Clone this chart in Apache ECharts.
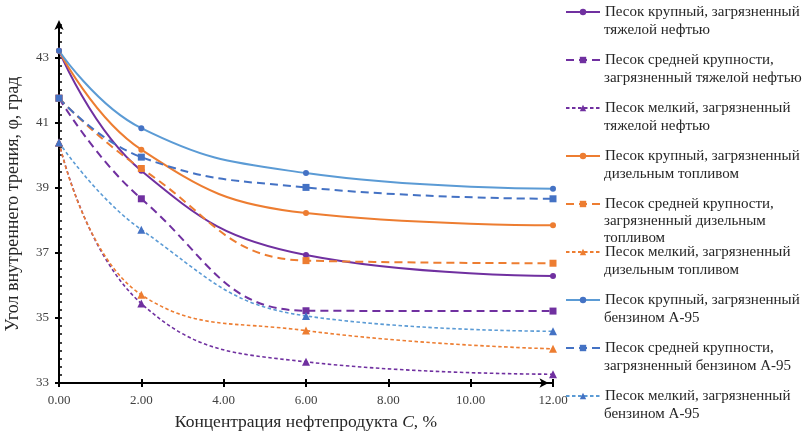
<!DOCTYPE html>
<html>
<head>
<meta charset="utf-8">
<script src="https://cdn.jsdelivr.net/npm/echarts@6/dist/echarts.min.js"></script>
<style>
html,body{margin:0;padding:0;background:#fff;}
#c{width:807px;height:432px;}
</style>
</head>
<body>
<div id="c"></div>
<script>
// ---- data ----
const xValues = [0, 2, 6, 12];
const seriesNames = [
  'Песок крупный, загрязненный\nтяжелой нефтью',
  'Песок средней крупности,\nзагрязненный тяжелой нефтью',
  'Песок мелкий, загрязненный\nтяжелой нефтью',
  'Песок крупный, загрязненный\nдизельным топливом',
  'Песок средней крупности,\nзагрязненный дизельным\nтопливом',
  'Песок мелкий, загрязненный\nдизельным топливом',
  'Песок крупный, загрязненный\nбензином А-95',
  'Песок средней крупности,\nзагрязненный бензином А-95',
  'Песок мелкий, загрязненный\nбензином А-95'
];
const coarseHeavyOil = [43.21, 39.52, 36.93, 36.29];
const mediumHeavyOil = [41.75, 38.66, 35.22, 35.21];
const fineHeavyOil   = [40.39, 35.44, 33.65, 33.27];
const coarseDiesel   = [43.21, 40.17, 38.22, 37.85];
const mediumDiesel   = [41.75, 39.59, 36.76, 36.68];
const fineDiesel     = [40.39, 35.71, 34.61, 34.05];
const coarsePetrol   = [43.21, 40.83, 39.45, 38.97];
const mediumPetrol   = [41.75, 39.94, 39.01, 38.66];
const finePetrol     = [40.39, 37.71, 35.06, 34.59];
const yTickValues = [33, 35, 37, 39, 41, 43];

const allValues = [coarseHeavyOil, mediumHeavyOil, fineHeavyOil, coarseDiesel, mediumDiesel, fineDiesel, coarsePetrol, mediumPetrol, finePetrol];

// ---- styles ----
const PURPLE = '#7030A0', ORANGE = '#ED7D31', BLUE_L = '#5B9BD5', BLUE = '#4472C4';
const styles = [
  {line: PURPLE, mark: PURPLE, type: 'solid', w: 2, sym: 'circle', size: 6},
  {line: PURPLE, mark: PURPLE, type: [8, 5], w: 2, sym: 'rect', size: 7},
  {line: PURPLE, mark: PURPLE, type: [3.5, 2.5], w: 1.6, sym: 'triangle', size: 8},
  {line: ORANGE, mark: ORANGE, type: 'solid', w: 2, sym: 'circle', size: 6},
  {line: ORANGE, mark: ORANGE, type: [8, 5], w: 2, sym: 'rect', size: 7},
  {line: ORANGE, mark: ORANGE, type: [3.5, 2.5], w: 1.6, sym: 'triangle', size: 8},
  {line: BLUE_L, mark: BLUE, type: 'solid', w: 2, sym: 'circle', size: 6},
  {line: BLUE, mark: BLUE, type: [8, 5], w: 2, sym: 'rect', size: 7},
  {line: BLUE_L, mark: BLUE, type: [3.5, 2.5], w: 1.6, sym: 'triangle', size: 8}
];

const FONT = 'Liberation Serif';
const TXT = '#262626';
const series = allValues.map((vals, i) => ({
  name: seriesNames[i],
  type: 'line',
  smooth: 0.45,
  data: vals.map((v, k) => [xValues[k], v]),
  symbol: styles[i].sym,
  symbolSize: styles[i].size,
  showAllSymbol: true,
  lineStyle: {color: styles[i].line, width: styles[i].w, type: styles[i].type},
  itemStyle: {color: styles[i].mark, borderWidth: 0},
  emphasis: {disabled: true},
  z: 2
}));

const LINE_H = 18;
const legends = [];
const extraLines = [];
seriesNames.forEach((name, i) => {
  const lines = name.split('\n');
  const firstLineY = 12 + i * 48;
  legends.push({
    data: [name],
    orient: 'vertical',
    left: 565,
    top: firstLineY - LINE_H / 2,
    padding: 0,
    itemWidth: 34,
    itemHeight: 8,
    selectedMode: false,
    formatter: () => lines[0],
    textStyle: {fontFamily: FONT, fontSize: 15, color: TXT, lineHeight: LINE_H}
  });
  for (let k = 1; k < lines.length; k++) {
    const step = lines.length > 2 ? 17 : LINE_H;
    extraLines.push({
      type: 'text', x: 604, y: firstLineY + k * step,
      style: {text: lines[k], font: '15px "Liberation Serif"', fill: TXT, verticalAlign: 'middle', align: 'left'}
    });
  }
});

const option = {
  animation: false,
  backgroundColor: '#fff',
  grid: {left: 59, right: 254, top: 25, bottom: 49, containLabel: false, outerBoundsMode: 'none'},
  legend: legends,
  graphic: extraLines,
  xAxis: [
    {
      type: 'value', min: 0, max: 12, interval: 2, position: 'bottom',
      name: 'Концентрация нефтепродукта {i|C}, %',
      nameLocation: 'middle', nameGap: 30,
      nameTextStyle: {fontFamily: FONT, fontSize: 17.5, color: TXT,
        rich: {i: {fontFamily: FONT, fontSize: 17.5, fontStyle: 'italic', color: TXT}}},
      axisLine: {show: true, lineStyle: {color: '#000', width: 2}, symbol: ['none', 'arrow'], symbolSize: [7, 9], symbolOffset: [0, -4.5]},
      axisTick: {show: true, inside: false, length: 4, lineStyle: {color: '#000', width: 2}},
      axisLabel: {fontFamily: FONT, fontSize: 13, color: '#404040', margin: 11,
        formatter: v => v.toFixed(2)},
      splitLine: {show: false}
    },
    {
      type: 'value', min: 0, max: 12, interval: 2, position: 'bottom',
      axisLine: {show: false},
      axisTick: {show: true, inside: true, length: 4, lineStyle: {color: '#000', width: 2}},
      axisLabel: {show: false},
      splitLine: {show: false}
    }
  ],
  yAxis: [
    {
      type: 'value', min: 33, max: 44, interval: 2, position: 'left',
      name: 'Угол внутреннего трения, φ, град',
      nameLocation: 'middle', nameGap: 37,
      nameTextStyle: {fontFamily: FONT, fontSize: 18, color: TXT},
      axisLine: {show: true, lineStyle: {color: '#000', width: 2}, symbol: ['none', 'arrow'], symbolSize: [7, 10], symbolOffset: [0, 5]},
      axisTick: {show: true, inside: false, length: 4, lineStyle: {color: '#000', width: 2}, customValues: yTickValues},
      axisLabel: {fontFamily: FONT, fontSize: 13, color: '#404040', margin: 10, customValues: yTickValues},
      splitLine: {show: false}
    },
    {
      type: 'value', min: 33, max: 44, interval: 0.25, position: 'left',
      axisLine: {show: false},
      axisTick: {show: true, inside: true, length: 3, lineStyle: {color: '#000', width: 1.5}},
      axisLabel: {show: false},
      splitLine: {show: false}
    }
  ],
  series: series
};

const chart = echarts.init(document.getElementById('c'), null, {renderer: 'canvas'});
chart.setOption(option);
</script>
</body>
</html>
